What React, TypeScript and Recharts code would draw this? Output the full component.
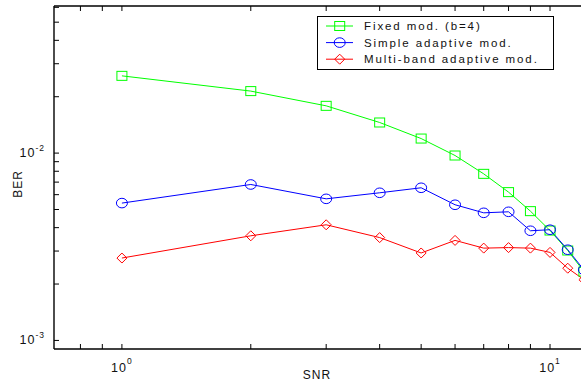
import { Label, Legend, Line, LineChart, XAxis, YAxis } from "recharts";

const snr = [1, 2, 3, 4, 5, 6, 7, 8, 9, 10, 11, 12];
const fixedBer = [0.02585, 0.02143, 0.01788, 0.01457, 0.01196, 0.00971, 0.00775, 0.00619, 0.0049, 0.00386, 0.00302, 0.00233];
const simpleBer = [0.00541, 0.0068, 0.0057, 0.00614, 0.00653, 0.0053, 0.0048, 0.00486, 0.00385, 0.0039, 0.00305, 0.00238];
const multiBer = [0.002753, 0.003619, 0.004143, 0.00354, 0.00293, 0.00342, 0.00311, 0.00313, 0.00311, 0.00295, 0.00243, 0.00211];

const seriesNames = ["Fixed mod. (b=4)", "Simple adaptive mod.", "Multi-band adaptive mod."];
const xTicks = [0.8, 0.9, 1, 2, 3, 4, 5, 6, 7, 8, 9, 10, 20];
const yTicks = [0.001, 0.002, 0.003, 0.004, 0.005, 0.006, 0.007, 0.008, 0.009, 0.01, 0.02, 0.03, 0.04, 0.05, 0.06];
const decadeLabels: Record<string, string> = { "1": "0", "10": "1", "0.01": "-2", "0.001": "-3" };

const data = snr.map((s, i) => ({ snr: s, fixed: fixedBer[i], simple: simpleBer[i], multi: multiBer[i] }));

const FONT = "'Liberation Sans', Arial, sans-serif";
const COLORS = ["#00ff00", "#0000ff", "#ff0000"];
const SHAPES = ["square", "circle", "diamond"];

// plot frame edges (px)
const LEFT = 54;
const TOP = 6;
const BOTTOM = 349;
const TICK = 5;

function Marker({ cx, cy, shape, color }: { cx: number; cy: number; shape: string; color: string }) {
  if (cx == null || cy == null) return null;
  if (shape === "square")
    return <rect x={cx - 5} y={cy - 4.5} width={10} height={9} fill="none" stroke={color} strokeWidth={1} />;
  if (shape === "circle")
    return <ellipse cx={cx} cy={cy} rx={5.5} ry={4.8} fill="none" stroke={color} strokeWidth={1} />;
  return (
    <polygon
      points={`${cx - 5},${cy} ${cx},${cy - 5} ${cx + 5},${cy} ${cx},${cy + 5}`}
      fill="none"
      stroke={color}
      strokeWidth={1}
    />
  );
}

function BottomTick(props: any) {
  const { x, payload } = props;
  const exp = decadeLabels[String(payload.value)];
  return (
    <g>
      <line x1={x} x2={x} y1={BOTTOM} y2={BOTTOM - TICK} stroke="#000" />
      {exp !== undefined && (
        <text x={x} y={BOTTOM + 23} textAnchor="middle" fontFamily={FONT} fontSize={12.5} fill="#111" letterSpacing={1}>
          <tspan>10</tspan>
          <tspan dy={-8} fontSize={8.5}>{exp}</tspan>
        </text>
      )}
    </g>
  );
}

function TopTick(props: any) {
  const { x } = props;
  return <line x1={x} x2={x} y1={TOP} y2={TOP + TICK} stroke="#000" />;
}

function LeftTick(props: any) {
  const { y, payload } = props;
  const exp = decadeLabels[String(payload.value)];
  return (
    <g>
      <line x1={LEFT} x2={LEFT + TICK} y1={y} y2={y} stroke="#000" />
      {exp !== undefined && (
        <text x={LEFT - 9} y={y + 4} textAnchor="end" fontFamily={FONT} fontSize={12.5} fill="#111" letterSpacing={1}>
          <tspan>10</tspan>
          <tspan dy={-6} fontSize={8.5}>{exp}</tspan>
        </text>
      )}
    </g>
  );
}

function LegendBox() {
  return (
    <svg width={237} height={54} style={{ display: "block" }}>
      <rect x={0.5} y={0.5} width={236} height={53} fill="#fff" stroke="#000" strokeWidth={1} />
      {seriesNames.map((name, i) => {
        const cy = 10 + i * 16.6;
        return (
          <g key={name}>
            <line x1={9} x2={36} y1={cy} y2={cy} stroke={COLORS[i]} strokeWidth={1} />
            <Marker cx={22.7} cy={cy} shape={SHAPES[i]} color={COLORS[i]} />
            <text x={47} y={cy + 4} fontFamily={FONT} fontSize={11.5} fill="#111" letterSpacing={1.9}>
              {name}
            </text>
          </g>
        );
      })}
    </svg>
  );
}

export default function App() {
  const keys = ["fixed", "simple", "multi"];
  return (
    <div style={{ position: "fixed", left: 0, top: 0, width: 581, height: 386, overflow: "hidden", background: "#fff" }}>
      <LineChart width={640} height={386} data={data} margin={{ top: TOP - 1, right: 20, bottom: 0, left: 0 }}>
        <XAxis
          dataKey="snr"
          type="number"
          scale="log"
          domain={[0.694, 14.57]}
          allowDataOverflow
          ticks={xTicks}
          interval={0}
          height={37}
          tickSize={0}
          tickMargin={0}
          tick={<BottomTick />}
          axisLine={{ stroke: "#000", strokeWidth: 1.4 }}
          tickLine={false}
        >
          <Label
            content={() => (
              <text x={317} y={379} textAnchor="middle" fontFamily={FONT} fontSize={12} fill="#111" letterSpacing={1}>
                SNR
              </text>
            )}
          />
        </XAxis>
        <XAxis
          xAxisId="top"
          orientation="top"
          dataKey="snr"
          type="number"
          scale="log"
          domain={[0.694, 14.57]}
          allowDataOverflow
          ticks={xTicks}
          interval={0}
          height={1}
          tickSize={0}
          tick={<TopTick />}
          axisLine={{ stroke: "#000", strokeWidth: 1.4 }}
          tickLine={false}
        />
        <YAxis
          type="number"
          scale="log"
          domain={[0.0009, 0.061]}
          allowDataOverflow
          ticks={yTicks}
          interval={0}
          width={LEFT}
          tickSize={0}
          tickMargin={0}
          tick={<LeftTick />}
          axisLine={{ stroke: "#000", strokeWidth: 1.4 }}
          tickLine={false}
        >
          <Label
            content={() => (
              <text
                x={22}
                y={184}
                transform="rotate(-90 22 184)"
                textAnchor="middle"
                fontFamily={FONT}
                fontSize={12}
                fill="#111"
                letterSpacing={1}
              >
                BER
              </text>
            )}
          />
        </YAxis>
        <Legend
          layout="vertical"
          verticalAlign="middle"
          align="center"
          wrapperStyle={{ left: 317, top: 16, width: 237, height: 54 }}
          content={<LegendBox />}
        />
        {keys.map((k, i) => (
          <Line
            key={k}
            dataKey={k}
            name={seriesNames[i]}
            stroke={COLORS[i]}
            strokeWidth={1}
            isAnimationActive={false}
            dot={(p: any) => <Marker key={`${k}-${p.index}`} cx={p.cx} cy={p.cy} shape={SHAPES[i]} color={COLORS[i]} />}
            activeDot={false}
          />
        ))}
      </LineChart>
    </div>
  );
}
